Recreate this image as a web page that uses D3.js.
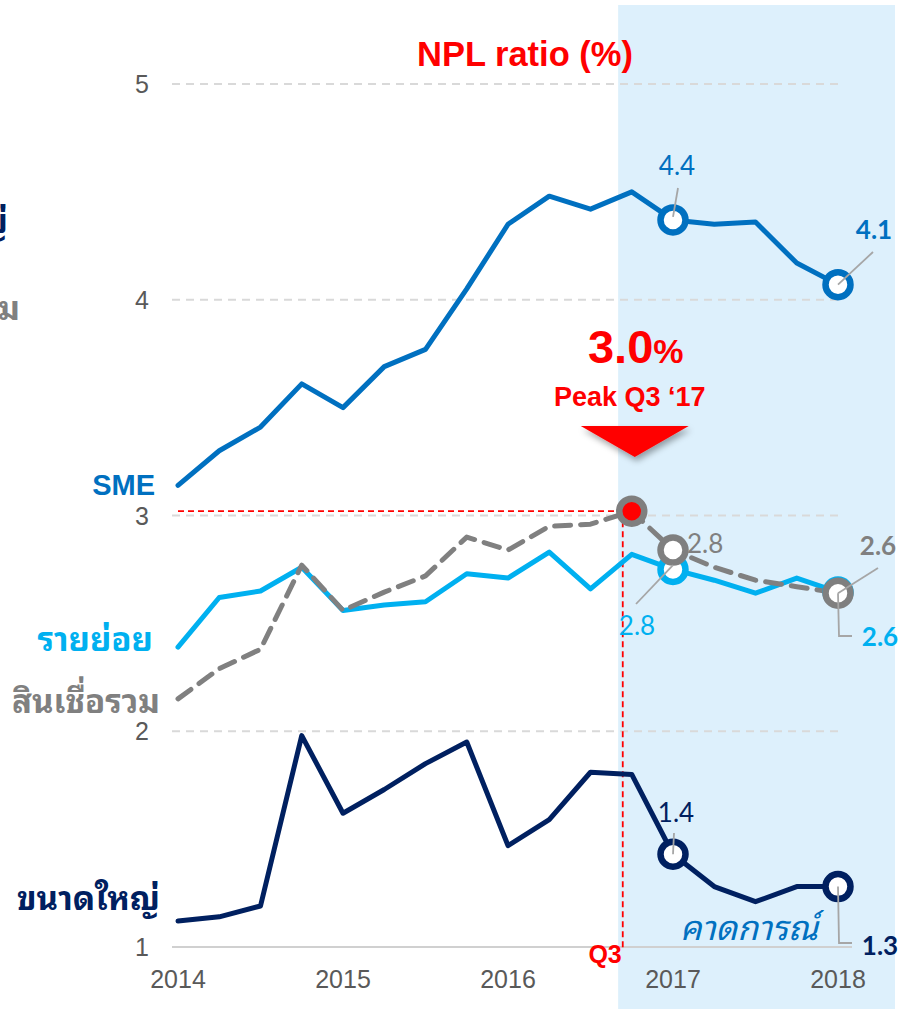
<!DOCTYPE html>
<html>
<head>
<meta charset="utf-8">
<script src="https://cdn.jsdelivr.net/npm/d3@7"></script>
<style>
  body { margin: 0; background: #fff; }
  svg { display: block; }
  text { font-family: "Liberation Sans", Arial, sans-serif; }
  .thai { font-family: "Noto Sans Thai Looped", "Noto Sans Thai", "Noto Sans", "Liberation Sans", sans-serif; }
  .num { font-family: Lato, "Open Sans", sans-serif; }
</style>
</head>
<body>
<div id="chart"></div>
<script>
// quarterly NPL ratios, 2014 Q1 .. 2018 (last 5 points forecast)
var sme = [3.14, 3.30, 3.41, 3.61, 3.50, 3.69, 3.77, 4.05, 4.35, 4.48, 4.42, 4.50, 4.37, 4.35, 4.36, 4.17, 4.07];
var retail = [2.39, 2.62, 2.65, 2.76, 2.56, 2.585, 2.60, 2.73, 2.71, 2.83, 2.66, 2.82, 2.75, 2.70, 2.64, 2.71, 2.645];
var total = [2.15, 2.29, 2.38, 2.77, 2.56, 2.645, 2.72, 2.90, 2.84, 2.95, 2.96, 3.02, 2.84, 2.76, 2.70, 2.67, 2.64];
var large = [1.12, 1.14, 1.19, 1.98, 1.62, 1.73, 1.85, 1.95, 1.47, 1.59, 1.81, 1.80, 1.43, 1.28, 1.21, 1.28, 1.28];

var yearLabels = ["2014", "2015", "2016", "2017", "2018"];
var yearIndex = [0, 4, 8, 12, 16];
var yTicks = [1, 2, 3, 4, 5];
var peakIndex = 11;
var forecastStart = 10.67;

var width = 898, height = 1009;

var svg = d3.select("#chart").append("svg")
  .attr("width", width)
  .attr("height", height);

var defs = svg.append("defs");
var shadow = defs.append("filter").attr("id", "shadow")
  .attr("x", "-20%").attr("y", "-20%").attr("width", "140%").attr("height", "160%");
shadow.append("feDropShadow")
  .attr("dx", 2).attr("dy", 4).attr("stdDeviation", 3)
  .attr("flood-color", "#000").attr("flood-opacity", 0.35);

var x = d3.scaleLinear().domain([0, 16]).range([178, 838]);
var y = d3.scaleLinear().domain([1, 5]).range([947, 84]);

// forecast shading
svg.append("rect")
  .attr("x", x(forecastStart))
  .attr("y", 5)
  .attr("width", 895 - x(forecastStart))
  .attr("height", height - 5)
  .attr("fill", "#ddf0fc");

// grid lines
svg.append("g").selectAll("line")
  .data(yTicks)
  .enter().append("line")
  .attr("x1", 172)
  .attr("x2", function(d) { return d === 1 ? 852 : 842; })
  .attr("y1", function(d) { return y(d); })
  .attr("y2", function(d) { return y(d); })
  .attr("stroke", function(d) { return d === 1 ? "#d0d0d0" : "#d9d9d9"; })
  .attr("stroke-width", 1.8)
  .attr("stroke-dasharray", function(d) { return d === 1 ? null : "8,6"; });

// y tick labels
svg.append("g").selectAll("text")
  .data(yTicks)
  .enter().append("text")
  .attr("x", 149)
  .attr("y", function(d) { return y(d) + 9; })
  .attr("text-anchor", "end")
  .attr("font-size", 25)
  .attr("fill", "#595959")
  .text(function(d) { return d; });

// x tick labels
svg.append("g").selectAll("text")
  .data(yearLabels)
  .enter().append("text")
  .attr("x", function(d, i) { return x(yearIndex[i]); })
  .attr("y", 988)
  .attr("text-anchor", "middle")
  .attr("font-size", 25)
  .attr("fill", "#595959")
  .text(function(d) { return d; });

// peak reference lines
var qx = x(peakIndex) - 9;
svg.append("line")
  .attr("x1", 178).attr("x2", qx)
  .attr("y1", y(total[peakIndex])).attr("y2", y(total[peakIndex]))
  .attr("stroke", "#ff0000").attr("stroke-width", 1.8).attr("stroke-dasharray", "6,4");
svg.append("line")
  .attr("x1", qx).attr("x2", qx)
  .attr("y1", y(total[peakIndex])).attr("y2", 950)
  .attr("stroke", "#ff0000").attr("stroke-width", 1.8).attr("stroke-dasharray", "6,4");

var line = d3.line()
  .x(function(d, i) { return x(i); })
  .y(function(d) { return y(d); });

function drawLine(data, color, dash) {
  svg.append("path")
    .datum(data)
    .attr("d", line)
    .attr("fill", "none")
    .attr("stroke", color)
    .attr("stroke-width", 5)
    .attr("stroke-linejoin", "round")
    .attr("stroke-linecap", "round")
    .attr("stroke-dasharray", dash || null);
}

drawLine(large, "#002060");
drawLine(sme, "#0070c0");
drawLine(retail, "#00b0f0");
drawLine(total, "#808080", "16,10");

// markers
function marker(i, v, color, fill) {
  svg.append("circle")
    .attr("cx", x(i)).attr("cy", y(v))
    .attr("r", 12.5)
    .attr("fill", fill || "#fff")
    .attr("stroke", color)
    .attr("stroke-width", 6.5);
}

marker(12, sme[12], "#0070c0");
marker(16, sme[16], "#0070c0");
marker(12, retail[12], "#00b0f0");
marker(16, retail[16], "#00b0f0");
marker(12, large[12], "#002060");
marker(16, large[16], "#002060");
marker(12, total[12], "#7f7f7f");
marker(16, total[16], "#7f7f7f");
marker(peakIndex, total[peakIndex], "#7f7f7f", "#ff0000");

// leader lines
function leader(points) {
  svg.append("path")
    .attr("d", d3.line()(points))
    .attr("fill", "none")
    .attr("stroke", "#a6a6a6")
    .attr("stroke-width", 1.8);
}
leader([[x(12) + 5, 188], [x(12), y(sme[12]) - 3]]);
leader([[x(16) + 35, 252], [x(16), y(sme[16])]]);
leader([[x(12) - 37, 604], [x(12), y(total[12]) + 15]]);
leader([[x(16) + 40, 568], [x(16), y(total[16])]]);
leader([[x(16), y(total[16])], [x(16) + 1, 636], [x(16) + 14, 636]]);
leader([[x(12) + 1, 833], [x(12), y(large[12])]]);
leader([[x(16), y(large[16])], [x(16) + 1, 943], [x(16) + 14, 943]]);

// value labels
function label(tx, ty, txt, color, bold, anchor) {
  svg.append("text")
    .attr("class", "num")
    .attr("x", tx).attr("y", ty)
    .attr("text-anchor", anchor || "middle")
    .attr("font-size", 26)
    .attr("font-weight", bold ? "bold" : "normal")
    .attr("fill", color)
    .text(txt);
}
label(x(12) + 4, 175, "4.4", "#0070c0");
label(874, 239, "4.1", "#0070c0", true);
label(x(12) + 14, 553, "2.8", "#808080", false, "start");
label(x(12) - 36, 635, "2.8", "#00b0f0");
label(878, 555, "2.6", "#808080", true);
label(880, 646, "2.6", "#00b0f0", true);
label(x(12) + 3, 822, "1.4", "#002060");
label(880, 955, "1.3", "#002060", true);

// forecast label
svg.append("text")
  .attr("class", "thai")
  .attr("x", 749).attr("y", 940)
  .attr("text-anchor", "middle")
  .attr("font-size", 34)
  .attr("font-style", "italic")
  .attr("fill", "#0070c0")
  .text("คาดการณ์");

// Q3 marker text
svg.append("text")
  .attr("x", qx - 1).attr("y", 963)
  .attr("text-anchor", "end")
  .attr("font-size", 25)
  .attr("font-weight", "bold")
  .attr("fill", "#ff0000")
  .text("Q3");

// title
svg.append("text")
  .attr("x", 525).attr("y", 66)
  .attr("text-anchor", "middle")
  .attr("font-size", 34.5)
  .attr("font-weight", "bold")
  .attr("fill", "#ff0000")
  .text("NPL ratio (%)");

// peak callout
var callout = svg.append("text")
  .attr("x", x(peakIndex) + 4).attr("y", 363)
  .attr("text-anchor", "middle")
  .attr("font-weight", "bold")
  .attr("fill", "#ff0000");
callout.append("tspan").attr("font-size", 47).text(d3.format(".1f")(3.0));
callout.append("tspan").attr("font-size", 34).text("%");

svg.append("text")
  .attr("x", x(peakIndex) - 2).attr("y", 406)
  .attr("text-anchor", "middle")
  .attr("font-size", 27)
  .attr("font-weight", "bold")
  .attr("fill", "#ff0000")
  .text("Peak Q3 \u201817");

var tx = x(peakIndex) + 3;
svg.append("path")
  .attr("d", d3.line()([[tx - 54, 426], [tx + 54, 426], [tx, 457]]) + "Z")
  .attr("fill", "#ff0000")
  .attr("filter", "url(#shadow)");

// series names
var names = [
  { t: "SME", x: 155, y: 495, c: "#0070c0" },
  { t: "รายย่อย", x: 153, y: 651, c: "#00b0f0" },
  { t: "สินเชื่อรวม", x: 160, y: 713, c: "#808080" },
  { t: "ขนาดใหญ่", x: 160, y: 910, c: "#002060" },
  { t: "ขนาดใหญ่", x: 8, y: 233, c: "#002060" },
  { t: "สินเชื่อรวม", x: 20, y: 320, c: "#808080" }
];
svg.append("g").selectAll("text")
  .data(names)
  .enter().append("text")
  .attr("class", function(d) { return d.t === "SME" ? null : "thai"; })
  .attr("x", function(d) { return d.x; })
  .attr("y", function(d) { return d.y; })
  .attr("text-anchor", "end")
  .attr("font-size", function(d) { return d.t === "SME" ? 29 : 33; })
  .attr("font-weight", "bold")
  .attr("fill", function(d) { return d.c; })
  .text(function(d) { return d.t; });
</script>
</body>
</html>
